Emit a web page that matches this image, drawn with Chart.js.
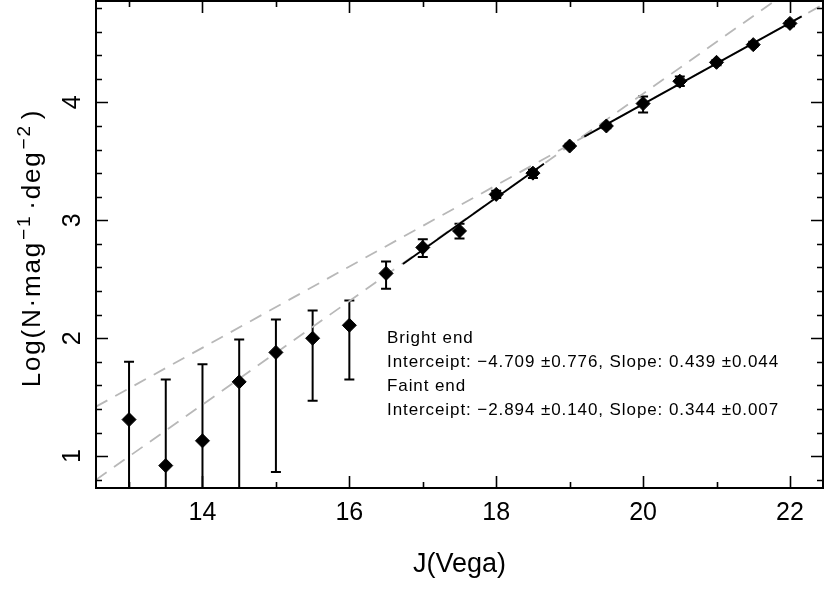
<!DOCTYPE html>
<html>
<head>
<meta charset="utf-8">
<script src="https://cdn.jsdelivr.net/npm/chart.js@4.4.0/dist/chart.umd.min.js"></script>
<style>
  html, body { margin: 0; padding: 0; background: #fff; }
  #wrap { width: 830px; height: 594px; position: relative; }
</style>
</head>
<body>
<div id="wrap"><canvas id="lf"></canvas></div>
<script>
// number counts per magnitude bin
const magnitudes = [13, 13.5, 14, 14.5, 15, 15.5, 16, 16.5, 17, 17.5, 18, 18.5, 19, 19.5, 20, 20.5, 21, 21.5, 22];
const logCounts = [1.31, 0.92, 1.13, 1.63, 1.88, 2.00, 2.11, 2.55, 2.77, 2.91, 3.22, 3.40, 3.63, 3.80, 3.99, 4.18, 4.34, 4.49, 4.67];
const errLower = [0.0, 0.0, 0.0, 0.0, 0.865, 1.47, 1.65, 2.42, 2.69, 2.845, 3.19, 3.36, 3.615, 3.78, 3.915, 4.14, 4.315, 4.475, 4.645];
const errUpper = [1.80, 1.65, 1.78, 1.99, 2.16, 2.235, 2.32, 2.65, 2.84, 2.97, 3.25, 3.43, 3.65, 3.82, 4.05, 4.22, 4.36, 4.515, 4.69];

// fitted lines (dashed = full extent, solid = fitted range)
const brightFitX = [12.55, 22.45];
const brightFitY = [0.80, 5.15];
const faintFitX = [12.55, 22.45];
const faintFitY = [1.42, 4.83];
const brightRangeX = [16.73, 18.65];
const brightRangeY = [2.63, 3.48];
const faintRangeX = [19.2, 22.16];
const faintRangeY = [3.71, 4.73];

const xMajorTicks = [14, 16, 18, 20, 22];
const xMinorTicks = [13, 15, 17, 19, 21];
const yMajorTicks = [1, 2, 3, 4];
const yMinorTicks = [0.8, 1.2, 1.4, 1.6, 1.8, 2.2, 2.4, 2.6, 2.8, 3.2, 3.4, 3.6, 3.8, 4.2, 4.4, 4.6, 4.8];

const notes = [
  'Bright end',
  'Interceipt: \u22124.709 \u00b10.776, Slope: 0.439 \u00b10.044',
  'Faint end',
  'Interceipt: \u22122.894 \u00b10.140, Slope: 0.344 \u00b10.007',
];

const FONT = '"Liberation Sans", Arial, sans-serif';
const toXY = (xs, ys) => xs.map((x, i) => ({ x, y: ys[i] }));

const errorBars = {
  id: 'errorBars',
  beforeDatasetsDraw(chart) {
    const { ctx, chartArea, scales } = chart;
    ctx.save();
    ctx.beginPath();
    ctx.rect(chartArea.left, chartArea.top, chartArea.right - chartArea.left, chartArea.bottom - chartArea.top);
    ctx.clip();
    ctx.strokeStyle = '#000';
    ctx.lineWidth = 2;
    ctx.beginPath();
    magnitudes.forEach((m, i) => {
      const px = scales.x.getPixelForValue(m);
      const lo = scales.y.getPixelForValue(errLower[i]);
      const hi = scales.y.getPixelForValue(errUpper[i]);
      ctx.moveTo(px, lo);
      ctx.lineTo(px, hi);
      ctx.moveTo(px - 5, hi);
      ctx.lineTo(px + 5, hi);
      ctx.moveTo(px - 5, lo);
      ctx.lineTo(px + 5, lo);
    });
    ctx.stroke();
    ctx.restore();
  },
};

// spread text so it fills the width the plot font (Hershey) takes
function spacingFor(ctx, text, target) {
  const w = ctx.measureText(text).width;
  return Math.max(0, (target - w) / text.length);
}

const frame = {
  id: 'frame',
  afterDraw(chart) {
    const { ctx, chartArea: a, scales } = chart;
    const xs = scales.x;
    const ys = scales.y;
    const canSpace = 'letterSpacing' in ctx;
    ctx.save();
    ctx.strokeStyle = '#000';
    ctx.lineWidth = 1.6;
    ctx.beginPath();
    const xTick = (v, len) => {
      const px = Math.round(xs.getPixelForValue(v)) + 0.5;
      ctx.moveTo(px, a.bottom);
      ctx.lineTo(px, a.bottom - len);
      ctx.moveTo(px, a.top);
      ctx.lineTo(px, a.top + len);
    };
    const yTick = (v, len) => {
      const py = Math.round(ys.getPixelForValue(v)) + 0.5;
      ctx.moveTo(a.left, py);
      ctx.lineTo(a.left + len, py);
      ctx.moveTo(a.right, py);
      ctx.lineTo(a.right - len, py);
    };
    xMajorTicks.forEach((v) => xTick(v, 12));
    xMinorTicks.forEach((v) => xTick(v, 6));
    yMajorTicks.forEach((v) => yTick(v, 12));
    yMinorTicks.forEach((v) => yTick(v, 6));
    ctx.stroke();

    ctx.lineWidth = 2;
    ctx.strokeRect(a.left, a.top, a.right - a.left, a.bottom - a.top);

    // tick labels
    ctx.fillStyle = '#000';
    ctx.font = `25px ${FONT}`;
    ctx.textAlign = 'center';
    ctx.textBaseline = 'alphabetic';
    xMajorTicks.forEach((v) => ctx.fillText(String(v), xs.getPixelForValue(v), 520));
    yMajorTicks.forEach((v) => {
      ctx.save();
      ctx.translate(80, ys.getPixelForValue(v));
      ctx.rotate(-Math.PI / 2);
      ctx.fillText(String(v), 0, 0);
      ctx.restore();
    });

    // x title
    ctx.font = `27px ${FONT}`;
    ctx.fillText('J(Vega)', (a.left + a.right) / 2, 572);

    // y title with superscripts
    const parts = [
      { t: 'Log(N\u00b7mag', sup: false },
      { t: '\u22121', sup: true, gap: 1 },
      { t: '\u00b7deg', sup: false, gap: 5 },
      { t: '\u22122', sup: true, gap: 1 },
      { t: ')', sup: false, gap: 5 },
    ];
    const fontFor = (p) => (p.sup ? `19px ${FONT}` : `26px ${FONT}`);
    const extra = canSpace ? 1.8 : 0;
    let total = 0;
    parts.forEach((p) => {
      ctx.font = fontFor(p);
      total += ctx.measureText(p.t).width + (p.gap || 0) + extra * p.t.length;
    });
    ctx.save();
    ctx.translate(39.5, 248);
    ctx.rotate(-Math.PI / 2);
    ctx.textAlign = 'left';
    if (canSpace) ctx.letterSpacing = `${extra}px`;
    let cx = -total / 2;
    parts.forEach((p) => {
      ctx.font = fontFor(p);
      cx += p.gap || 0;
      ctx.fillText(p.t, cx, p.sup ? -10 : 0);
      cx += ctx.measureText(p.t).width + (canSpace ? 0 : 0);
    });
    ctx.restore();

    // fit annotation
    ctx.font = `17px ${FONT}`;
    ctx.textAlign = 'left';
    const sp = spacingFor(ctx, notes[1], 392);
    if (canSpace) ctx.letterSpacing = `${sp}px`;
    notes.forEach((line, i) => ctx.fillText(line, 387, 343 + i * 24));
    ctx.restore();
  },
};

new Chart(document.getElementById('lf'), {
  type: 'line',
  data: {
    datasets: [
      {
        data: toXY(magnitudes, logCounts),
        showLine: false,
        pointStyle: 'rectRot',
        pointRadius: 7,
        pointBackgroundColor: '#000',
        pointBorderColor: '#000',
        pointBorderWidth: 1,
      },
      {
        data: toXY(brightRangeX, brightRangeY),
        borderColor: '#000',
        borderWidth: 2,
        pointRadius: 0,
        clip: 0,
      },
      {
        data: toXY(faintRangeX, faintRangeY),
        borderColor: '#000',
        borderWidth: 2,
        pointRadius: 0,
        clip: 0,
      },
      {
        data: toXY(brightFitX, brightFitY),
        borderColor: '#b8b8b8',
        borderWidth: 1.8,
        borderDash: [13, 9],
        pointRadius: 0,
        clip: 0,
      },
      {
        data: toXY(faintFitX, faintFitY),
        borderColor: '#b8b8b8',
        borderWidth: 1.8,
        borderDash: [13, 9],
        pointRadius: 0,
        clip: 0,
      },
    ],
  },
  options: {
    responsive: true,
    maintainAspectRatio: false,
    animation: false,
    layout: { autoPadding: false, padding: { top: 1, right: 7, left: 0, bottom: 0 } },
    plugins: {
      legend: { display: false },
      tooltip: { enabled: false },
    },
    scales: {
      x: {
        type: 'linear',
        min: 12.55,
        max: 22.45,
        grid: { display: false },
        border: { display: false },
        ticks: { display: false },
        afterFit: (scale) => { scale.height = 106; },
      },
      y: {
        type: 'linear',
        min: 0.73,
        max: 4.86,
        grid: { display: false },
        border: { display: false },
        ticks: { display: false },
        afterFit: (scale) => { scale.width = 96; },
      },
    },
  },
  plugins: [errorBars, frame],
});
</script>
</body>
</html>
